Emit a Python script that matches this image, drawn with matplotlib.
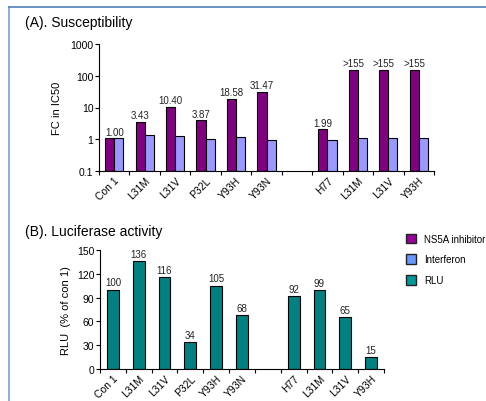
import matplotlib.pyplot as plt
import numpy as np
from matplotlib.lines import Line2D
from matplotlib.patches import Patch

# panel A: fold change in IC50 (log scale), None = empty slot
labels_a = ['Con 1', 'L31M', 'L31V', 'P32L', 'Y93H', 'Y93N', '', 'H77', 'L31M', 'L31V', 'Y93H']
ns5a = [1.00, 3.43, 10.40, 3.87, 18.58, 31.47, None, 1.99, 155, 155, 155]
ns5a_text = ['1.00', '3.43', '10.40', '3.87', '18.58', '31.47', '', '1.99', '>155', '>155', '>155']
interferon = [1.00, 1.27, 1.20, 0.90, 1.10, 0.85, None, 0.85, 0.98, 0.96, 0.98]

# panel B: luciferase activity
labels_b = ['Con 1', 'L31M', 'L31V', 'P32L', 'Y93H', 'Y93N', '', 'H77', 'L31M', 'L31V', 'Y93H']
rlu = [100, 136, 116, 34, 105, 68, None, 92, 99, 65, 15]

purple = '#800080'
lblue = '#9999ff'
teal = '#008080'

plt.rcParams['font.family'] = ['Liberation Sans', 'DejaVu Sans']

fig = plt.figure(figsize=(4.86, 4.02), dpi=100)

# blue frame on left and top
fig.add_artist(Line2D([9/486, 9/486], [0, 1 - 8/402], color='#7a9fd0', lw=1.2, transform=fig.transFigure))
fig.add_artist(Line2D([9/486, 1], [1 - 8/402, 1 - 8/402], color='#4f81bd', lw=1.2, transform=fig.transFigure))

def style_axes(ax, n, labels):
    ax.spines['top'].set_visible(False)
    ax.spines['right'].set_visible(False)
    ax.set_xlim(0, n)
    ax.set_xticks(np.arange(n + 1))
    ax.set_xticklabels([])
    ax.set_xticks(np.arange(n) + 0.5, minor=True)
    ax.set_xticklabels(labels, minor=True, rotation=45, ha='right', rotation_mode='anchor', fontsize=7.5)
    ax.tick_params(axis='x', which='minor', length=0, pad=3)
    ax.tick_params(axis='x', which='major', length=3, direction='out')
    ax.tick_params(axis='y', labelsize=7.5, length=3, direction='out', pad=1)

# ---- panel A
axa = fig.add_axes([99/486, 1 - 172/402, 335/486, 127/402])
n = len(labels_a)
w = 0.3
for i in range(n):
    if ns5a[i] is None:
        continue
    axa.bar(i + 0.5 - w/2, ns5a[i], width=w, bottom=0.1, color=purple, edgecolor='black', lw=0.8)
    axa.bar(i + 0.5 + w/2, interferon[i], width=w, bottom=0.1, color=lblue, edgecolor='black', lw=0.8)
    # label sits over the group when both bars are equal
    xl = i + 0.5 if ns5a[i] == interferon[i] else i + 0.5 - w/2
    axa.text(xl, ns5a[i] * 1.15, ns5a_text[i], ha='center', va='bottom', fontsize=7, color='#222222')
axa.set_yscale('log')
axa.set_ylim(0.1, 1000)
axa.set_yticks([0.1, 1, 10, 100, 1000])
axa.set_yticklabels(['0.1', '1', '10', '100', '1000'])
axa.minorticks_off()
style_axes(axa, n, labels_a)
axa.set_ylabel('FC in IC50', fontsize=8, labelpad=6)
fig.text(25/486, 1 - 23/402, '(A). Susceptibility', fontsize=10, va='center', ha='left')

# ---- panel B
axb = fig.add_axes([100/486, 1 - 370/402, 284/486, 119/402])
n = len(labels_b)
for i in range(n):
    if rlu[i] is None:
        continue
    axb.bar(i + 0.5, rlu[i], width=0.46, color=teal, edgecolor='black', lw=0.8)
    axb.text(i + 0.5, rlu[i] + 3, str(rlu[i]), ha='center', va='bottom', fontsize=7, color='#222222')
axb.set_ylim(0, 150)
axb.set_yticks([0, 30, 60, 90, 120, 150])
style_axes(axb, n, labels_b)
axb.set_ylabel('RLU  (% of con 1)', fontsize=8, labelpad=4)
fig.text(25/486, 1 - 232/402, '(B). Luciferase activity', fontsize=10, va='center', ha='left')

# legend
handles = [Patch(facecolor='#990099', edgecolor='#222222', label='NS5A inhibitor'),
           Patch(facecolor='#6699ff', edgecolor='#222222', label='Interferon'),
           Patch(facecolor='#009999', edgecolor='#222222', label='RLU')]
fig.legend(handles=handles, loc='upper left', bbox_to_anchor=(397/486, 1 - 226/402), frameon=False,
           fontsize=7, handlelength=1.1, handleheight=1.1, handletextpad=0.8, labelspacing=1.1)

fig.savefig('out.png', dpi=100)
